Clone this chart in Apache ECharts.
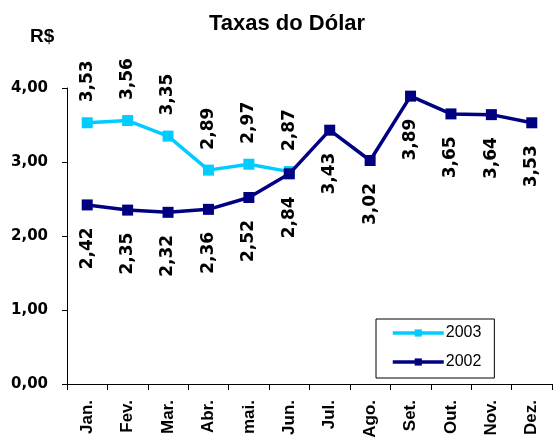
<!DOCTYPE html>
<html>
<head>
<meta charset="utf-8">
<script src="https://cdn.jsdelivr.net/npm/echarts@6/dist/echarts.min.js"></script>
<style>
  html, body { margin: 0; padding: 0; background: #fff; }
  #chart { width: 553px; height: 443px; }
</style>
</head>
<body>
<div id="chart"></div>
<script>
// meses e cotações
var meses = ['Jan.', 'Fev.', 'Mar.', 'Abr.', 'mai.', 'Jun.', 'Jul.', 'Ago.', 'Set.', 'Out.', 'Nov.', 'Dez.'];
var taxas2003 = [3.53, 3.56, 3.35, 2.89, 2.97, 2.87, null, null, null, null, null, null];
var taxas2002 = [2.42, 2.35, 2.32, 2.36, 2.52, 2.84, 3.43, 3.02, 3.89, 3.65, 3.64, 3.53];
var yTicks = [0, 1, 2, 3, 4];

function virgula(v) {
    return Number(v).toFixed(2).replace('.', ',');
}

var chart = echarts.init(document.getElementById('chart'));
chart.setOption({
    animation: false,
    title: {
        text: 'Taxas do Dólar',
        left: 282,
        textAlign: 'center',
        top: 8,
        textStyle: { fontFamily: 'Liberation Sans', fontWeight: 'bold', fontSize: 22, color: '#000' }
    },
    graphic: [{
        type: 'text',
        left: 30,
        top: 27,
        style: { text: 'R$', font: 'bold 19px "Liberation Sans"', fill: '#000' }
    }],
    legend: {
        data: ['2003', '2002'],
        orient: 'vertical',
        left: 376,
        top: 319,
        padding: [6, 13, 8, 15],
        itemGap: 13,
        itemWidth: 51,
        itemHeight: 9,
        lineStyle: { width: 3.5 },
        borderColor: '#000',
        borderWidth: 1,
        textStyle: { fontFamily: 'Liberation Sans', fontSize: 16, color: '#000', padding: [0, 0, 0, -3] }
    },
    grid: { left: 67, right: 1, top: 88, bottom: 59, containLabel: false },
    xAxis: {
        type: 'category',
        data: meses,
        boundaryGap: true,
        axisLine: { lineStyle: { color: '#000', width: 1 } },
        axisTick: { show: true, length: 6, lineStyle: { color: '#000' } },
        axisLabel: {
            rotate: 90,
            margin: 16,
            fontFamily: 'Liberation Sans',
            fontWeight: 'bold',
            fontSize: 17,
            color: '#000'
        },
        splitLine: { show: false }
    },
    yAxis: {
        type: 'value',
        min: yTicks[0],
        max: yTicks[yTicks.length - 1],
        interval: 1,
        axisLine: { show: true, lineStyle: { color: '#000', width: 1 } },
        axisTick: { show: true, length: 5, lineStyle: { color: '#000' } },
        axisLabel: {
            formatter: virgula,
            margin: 19,
            fontFamily: 'DejaVu Sans',
            fontWeight: 'bold',
            fontSize: 15,
            color: '#000'
        },
        splitLine: { show: false }
    },
    series: [{
        name: '2003',
        type: 'line',
        data: taxas2003,
        z: 2,
        color: '#00CCFF',
        symbol: 'rect',
        symbolSize: 11,
        lineStyle: { width: 3.5, color: '#00CCFF' },
        itemStyle: { color: '#00CCFF' },
        label: {
            show: true,
            position: 'top',
            rotate: 90,
            align: 'left',
            verticalAlign: 'middle',
            distance: 15,
            fontFamily: 'DejaVu Sans',
            fontWeight: 'bold',
            fontSize: 17,
            color: '#000',
            formatter: function (p) { return virgula(p.value); }
        }
    }, {
        name: '2002',
        type: 'line',
        data: taxas2002,
        z: 3,
        color: '#000080',
        symbol: 'rect',
        symbolSize: 11,
        lineStyle: { width: 3.5, color: '#000080' },
        itemStyle: { color: '#000080' },
        label: {
            show: true,
            position: 'bottom',
            rotate: 90,
            align: 'right',
            verticalAlign: 'middle',
            distance: 17,
            fontFamily: 'DejaVu Sans',
            fontWeight: 'bold',
            fontSize: 17,
            color: '#000',
            formatter: function (p) { return virgula(p.value); }
        }
    }]
});
</script>
</body>
</html>
